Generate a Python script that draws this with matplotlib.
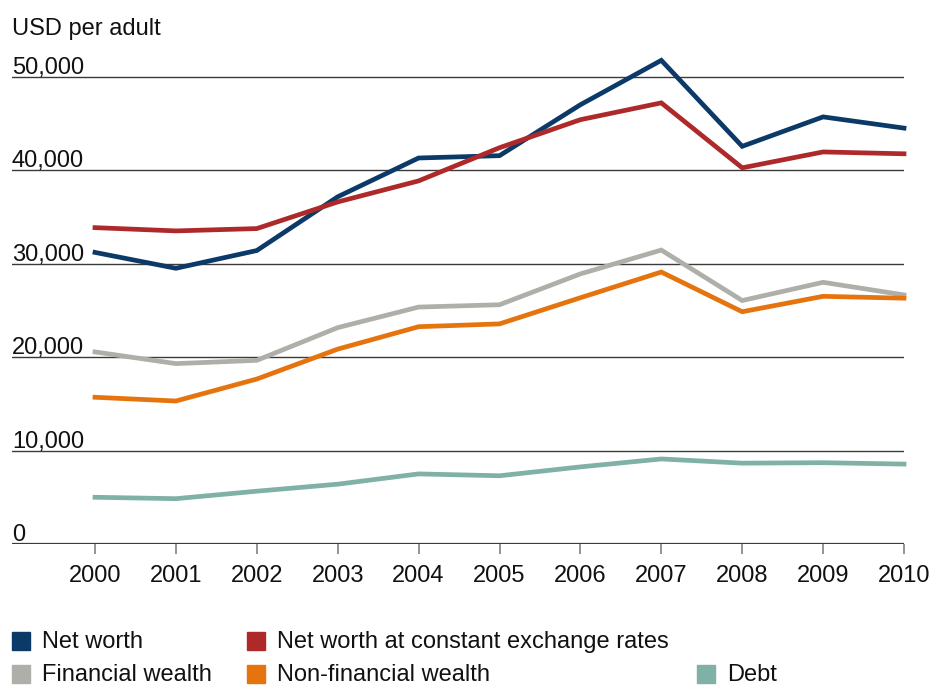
import matplotlib
matplotlib.use("Agg")
import matplotlib.pyplot as plt
import matplotlib.transforms as mtransforms
from matplotlib.patches import Rectangle

plt.rcParams['font.family'] = ['Liberation Sans', 'DejaVu Sans']

years = [2000, 2001, 2002, 2003, 2004, 2005, 2006, 2007, 2008, 2009, 2010]

net_worth = [31200, 29500, 31400, 37150, 41300, 41550, 47000, 51750, 42550, 45700, 44500]
net_worth_const = [33850, 33500, 33750, 36600, 38850, 42400, 45400, 47200, 40250, 41950, 41750]
financial = [20550, 19300, 19650, 23150, 25350, 25600, 28900, 31450, 26050, 28000, 26650]
non_financial = [15700, 15300, 17650, 20850, 23250, 23550, 26350, 29100, 24850, 26500, 26300]
debt = [5000, 4850, 5650, 6400, 7500, 7300, 8250, 9100, 8650, 8700, 8550]

yticks = [0, 10000, 20000, 30000, 40000, 50000]

series = [
    ("Net worth", net_worth, "#0c3a68"),
    ("Net worth at constant exchange rates", net_worth_const, "#ae2a2a"),
    ("Financial wealth", financial, "#afafa9"),
    ("Non-financial wealth", non_financial, "#e6740e"),
    ("Debt", debt, "#80b1a7"),
]

FS = 17

fig = plt.figure(figsize=(9.32, 6.89), dpi=100)
ax = fig.add_axes([12/932, 1 - 544/689, (904 - 12)/932, (544 - 58)/689])

# gridlines first so lines sit on top
for v in yticks:
    ax.axhline(v, color="#3a3a3a", lw=1.0 if v else 1.6, zorder=1)

for name, vals, col in series:
    ax.plot(years, vals, color=col, lw=3.4, solid_joinstyle="miter",
            clip_on=False, zorder=3)

ax.set_xlim(2000 - 83/80.9, 2010)
ax.set_ylim(0, 52000)
for s in ax.spines.values():
    s.set_visible(False)
ax.set_yticks([])
ax.set_xticks(years)
ax.set_xticklabels([str(y) for y in years], fontsize=FS)
ax.tick_params(axis="x", length=7.5, width=1.3, color="#8a8a8a", pad=7.5, labelcolor="#111111")

# y labels sit on top of each gridline, flush left
trans = mtransforms.blended_transform_factory(ax.transAxes, ax.transData)
off = mtransforms.offset_copy(trans, fig=fig, x=0, y=3, units="dots")
for v in yticks:
    ax.text(0, v, f"{v:,}", transform=off, fontsize=FS, ha="left", va="baseline",
            color="#111111")

fig.text(12/932, 1 - 35/689, "USD per adult", fontsize=FS, ha="left", va="baseline",
         color="#111111")

# legend
legend_pos = [(12, 641), (247, 641), (12, 674), (247, 674), (697, 674)]
for (name, vals, col), (px, py) in zip(series, legend_pos):
    fig.patches.append(Rectangle((px/932, 1 - (py + 9)/689), 18/932, 18/689,
                                 transform=fig.transFigure, color=col))
    fig.text((px + 30)/932, 1 - (py + 1)/689, name, fontsize=FS, ha="left", va="center",
             color="#111111")

fig.savefig("out.png", dpi=100)
